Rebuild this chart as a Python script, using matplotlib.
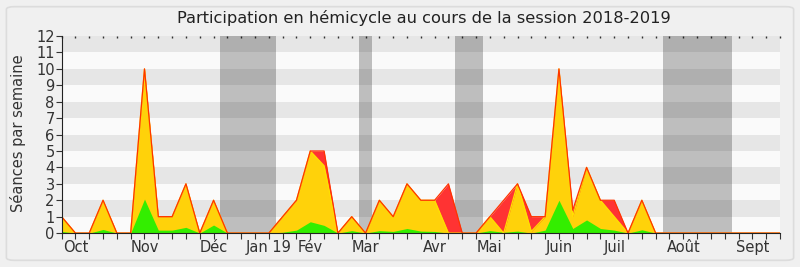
import numpy as np
import matplotlib
matplotlib.use('Agg')
import matplotlib.pyplot as plt
from matplotlib.patches import FancyBboxPatch

# ── data: one value per week of the session (week 0 = end of Sept 2018) ──────
weeks = list(range(53))
presences = [1, 0, 0, 2, 0, 0, 10, 1, 1, 3, 0, 2, 0, 0, 0, 0, 1, 2, 5, 5,
             0, 1, 0, 2, 1, 3, 2, 2, 3, 0, 0, 1, 2, 3, 1, 1, 10, 1.4, 4, 2,
             2, 0, 2, 0, 0, 0, 0, 0, 0, 0, 0, 0, 0]
participations = [1, 0, 0, 2, 0, 0, 10, 1, 1, 3, 0, 2, 0, 0, 0, 0, 1, 2, 5, 4.1,
                  0, 1, 0, 2, 1, 3, 2, 2, 0, 0, 0, 1, 0, 3, 0.1, 1, 10, 1, 4, 2,
                  1, 0, 2, 0, 0, 0, 0, 0, 0, 0, 0, 0, 0]
interventions = [0.1, 0, 0, 0.22, 0, 0, 2.07, 0.18, 0.18, 0.35, 0, 0.49, 0, 0, 0, 0,
                 0.05, 0.18, 0.69, 0.47, 0, 0.15, 0, 0.15, 0.1, 0.28, 0.12, 0.1, 0, 0,
                 0, 0.15, 0.05, 0.12, 0, 0.18, 2.0, 0.28, 0.8, 0.28, 0.18, 0, 0.2, 0,
                 0, 0, 0, 0, 0, 0, 0, 0, 0]
vacances = [(11.5, 15.5), (21.5, 22.5), (28.5, 30.5), (43.5, 48.5)]
month_weeks = [1, 6, 11, 15, 18, 22, 27, 31, 36, 40, 45, 50]
month_labels = ['Oct', 'Nov', 'Déc', 'Jan 19', 'Fév', 'Mar', 'Avr', 'Mai',
                'Juin', 'Juil', 'Août', 'Sept']

fig = plt.figure(figsize=(8, 2.67), dpi=100, facecolor='#f0f0f0')
fig.patches.append(FancyBboxPatch((0.008, 0.025), 0.984, 0.95,
                                  boxstyle='round,pad=0,rounding_size=0.01',
                                  transform=fig.transFigure, facecolor='none',
                                  edgecolor='#dcdcdc', lw=1.2))
ax = fig.add_axes([0.077, 0.127, 0.898, 0.738])

# background stripes
for k in range(12):
    ax.axhspan(k, k + 1, color='#e6e6e6' if k % 2 else '#fafafa', lw=0, zorder=0)
# holidays
for a, b in vacances:
    ax.axvspan(a, b, color='black', alpha=0.24, lw=0, zorder=1)

ax.fill_between(weeks, presences, color='#ff3333', lw=0, zorder=2)
ax.fill_between(weeks, participations, color='#ffd20a', lw=0, zorder=3)
ax.fill_between(weeks, interventions, color='#33ee00', lw=0, zorder=4)
ax.plot(weeks, participations, color='#ffe000', lw=0.9, zorder=5)
ax.plot(weeks, presences, color='#ff3300', lw=0.9, zorder=6)

ax.set_xlim(0, 52)
ax.set_ylim(0, 12)
ax.set_yticks(range(13))
ax.set_xticks(weeks)
labels = [''] * len(weeks)
for w, lab in zip(month_weeks, month_labels):
    labels[w] = lab
ax.set_xticklabels(labels)
ax.tick_params(axis='both', labelsize=10.5, colors='#333333', length=4, width=0.8, pad=1)

# tiny tick dots along the top edge
top = ax.secondary_xaxis('top')
top.set_xticks(weeks, labels=[])
top.tick_params(length=1.5, width=1, direction='in', colors='#333333')
top.spines['top'].set_visible(False)

for s in ('top', 'right'):
    ax.spines[s].set_visible(False)
for s in ('left', 'bottom'):
    ax.spines[s].set_color('#222222')
    ax.spines[s].set_zorder(7)

fig.text(0.53, 0.932, 'Participation en hémicycle au cours de la session 2018-2019',
         ha='center', va='center', fontsize=11.7, color='#222222')
fig.text(0.023, 0.5, 'Séances par semaine', rotation=90, ha='center', va='center',
         fontsize=10.5, color='#333333')

plt.savefig('out.png', dpi=100, facecolor=fig.get_facecolor())
